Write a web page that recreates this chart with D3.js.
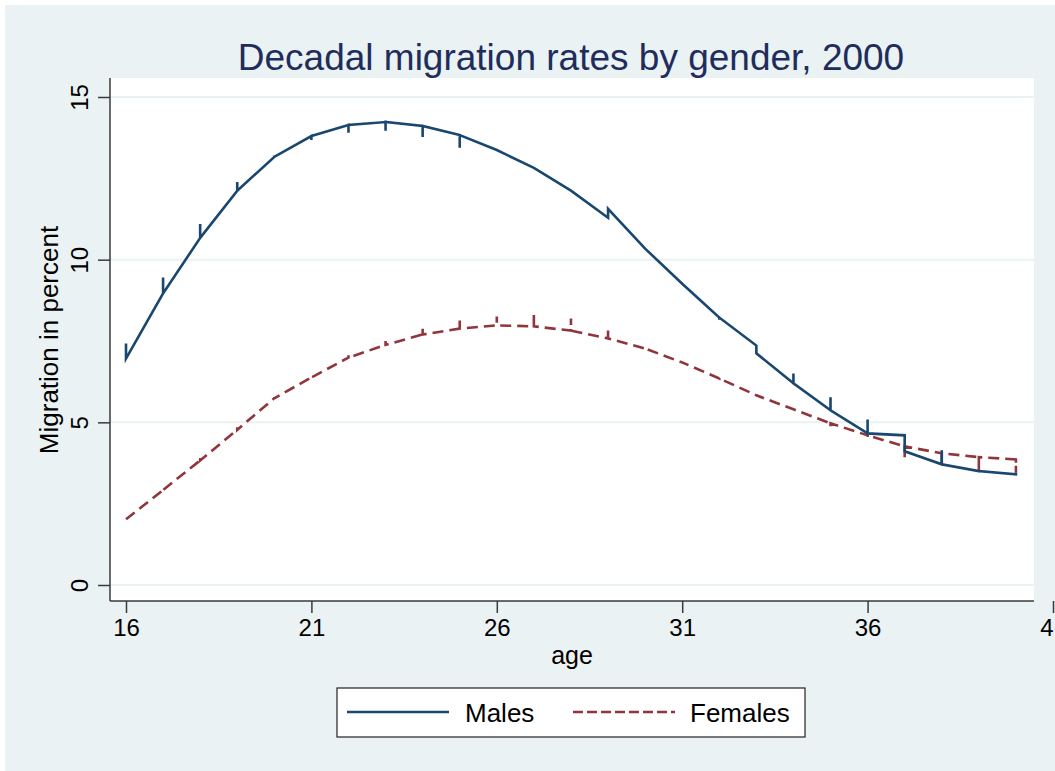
<!DOCTYPE html>
<html>
<head>
<meta charset="utf-8">
<script src="https://cdn.jsdelivr.net/npm/d3@7"></script>
<style>
  html, body { margin: 0; padding: 0; background: #fff; }
  svg { display: block; font-family: "Liberation Sans", Arial, sans-serif; }
</style>
</head>
<body>
<div id="chart"></div>
<script>
// ages and rates
var ages = [16, 17, 18, 19, 20, 21, 22, 23, 24, 25, 26, 27, 28, 29, 30, 31, 32, 33, 34, 35, 36, 37, 38, 39, 40];
var malesIn  = [6.96, 8.96, 10.67, 12.12, 13.16, 13.8, 14.14, 14.23, 14.11, 13.83, 13.37, 12.82, 12.12, 11.29, 10.34, 9.26, 8.22, 7.36, 6.2, 5.37, 4.66, 4.6, 3.71, 3.5, 3.4];
var malesTip = [7.42, 9.45, 11.1, 12.39, 13.2, 13.68, 13.9, 13.96, 13.77, 13.44, 13.37, 12.82, 12.12, 11.56, 10.34, 9.26, 8.15, 7.12, 6.5, 5.77, 5.09, 4.11, 4.14, 3.55, 3.45];
var malesOut = [6.96, 8.96, 10.67, 12.12, 13.16, 13.8, 14.14, 14.23, 14.11, 13.83, 13.37, 12.82, 12.12, 11.56, 10.34, 9.26, 8.22, 7.12, 6.2, 5.37, 4.66, 4.11, 3.71, 3.5, 3.4];
var femalesIn  = [2.02, 2.92, 3.83, 4.77, 5.74, 6.38, 6.99, 7.38, 7.7, 7.88, 7.98, 7.95, 7.82, 7.58, 7.27, 6.84, 6.35, 5.83, 5.4, 4.97, 4.6, 4.26, 4.05, 3.93, 3.86];
var femalesTip = [2.02, 2.97, 3.93, 4.85, 5.78, 6.42, 7.06, 7.5, 7.88, 8.13, 8.25, 8.31, 8.19, 7.91, 7.3, 6.86, 6.37, 5.85, 5.4, 4.88, 4.55, 3.93, 3.74, 3.5, 3.45];
var femalesOut = femalesIn;

var xTicks = [16, 21, 26, 31, 36, 41];
var yTicks = [0, 5, 10, 15];
var titleText = "Decadal migration rates by gender, 2000";
var xTitle = "age";
var yTitle = "Migration in percent";
var seriesNames = ["Males", "Females"];

var W = 1055, H = 771;
var plot = { left: 110, right: 1034, top: 78, bottom: 601 };
var navy = "#1a476f", maroon = "#90353b", bg = "#eaf2f3", axisCol = "#3a3a3a";

var svg = d3.select("#chart").append("svg").attr("width", W).attr("height", H);

svg.append("rect").attr("x", 5).attr("y", 5).attr("width", W - 5).attr("height", H - 5).attr("fill", bg);
svg.append("rect")
    .attr("x", plot.left).attr("y", plot.top)
    .attr("width", plot.right - plot.left).attr("height", plot.bottom - plot.top)
    .attr("fill", "#fff");

var x = d3.scaleLinear().domain([16, 41]).range([126, 1053]);
var y = d3.scaleLinear().domain([0, 15]).range([585, 97]);

// gridlines
svg.append("g").selectAll("line").data(yTicks).enter().append("line")
    .attr("x1", plot.left).attr("x2", plot.right)
    .attr("y1", function (d) { return y(d); }).attr("y2", function (d) { return y(d); })
    .attr("stroke", bg).attr("stroke-width", 2);

// x axis
var gx = svg.append("g").attr("transform", "translate(0," + plot.bottom + ")")
    .call(d3.axisBottom(x).tickValues(xTicks).tickSize(12).tickPadding(6));
gx.select(".domain").remove();
gx.selectAll(".tick line").attr("stroke", axisCol).attr("stroke-width", 1.5);
gx.selectAll(".tick text").attr("font-size", 24).attr("fill", "#000")
    .attr("font-family", "Liberation Sans, Arial, sans-serif");
svg.append("line").attr("x1", plot.left).attr("x2", plot.right)
    .attr("y1", plot.bottom).attr("y2", plot.bottom)
    .attr("stroke", axisCol).attr("stroke-width", 1.5);

// y axis
var gy = svg.append("g").attr("transform", "translate(" + plot.left + ",0)")
    .call(d3.axisLeft(y).tickValues(yTicks).tickSize(12));
gy.select(".domain").remove();
gy.selectAll(".tick line").attr("stroke", axisCol).attr("stroke-width", 1.5);
gy.selectAll(".tick text")
    .attr("font-size", 24).attr("fill", "#000")
    .attr("font-family", "Liberation Sans, Arial, sans-serif")
    .attr("x", null).attr("dy", null)
    .attr("text-anchor", "middle")
    .attr("transform", "translate(-22,0) rotate(-90)");
svg.append("line").attr("x1", plot.left).attr("x2", plot.left)
    .attr("y1", plot.top).attr("y2", plot.bottom)
    .attr("stroke", axisCol).attr("stroke-width", 1.5);

// series paths: each age gets an arrive, spike and leave point
function pts(a, t, o) {
    var p = [];
    ages.forEach(function (age, i) {
        p.push([age, a[i]]);
        p.push([age, t[i]]);
        p.push([age, o[i]]);
    });
    return p;
}
var line = d3.line().x(function (d) { return x(d[0]); }).y(function (d) { return y(d[1]); });

svg.append("path").datum(pts(femalesIn, femalesTip, femalesOut))
    .attr("d", line).attr("fill", "none").attr("stroke", maroon)
    .attr("stroke-width", 2.6).attr("stroke-dasharray", "11,6");
svg.append("path").datum(pts(malesIn, malesTip, malesOut))
    .attr("d", line).attr("fill", "none").attr("stroke", navy)
    .attr("stroke-width", 2.6);

// titles
svg.append("text").attr("x", 571).attr("y", 70).attr("text-anchor", "middle")
    .attr("font-size", 37).attr("fill", "#1e2d5c").text(titleText);
svg.append("text").attr("x", 572).attr("y", 664).attr("text-anchor", "middle")
    .attr("font-size", 25).attr("fill", "#000").text(xTitle);
svg.append("text").attr("transform", "translate(58,340) rotate(-90)").attr("text-anchor", "middle")
    .attr("font-size", 26).attr("fill", "#000").text(yTitle);

// legend
var lg = svg.append("g");
lg.append("rect").attr("x", 337).attr("y", 688).attr("width", 468).attr("height", 49)
    .attr("fill", "#fff").attr("stroke", "#222").attr("stroke-width", 1.2);
var legendItems = [
    { name: seriesNames[0], color: navy, dash: null, x0: 347, tx: 465 },
    { name: seriesNames[1], color: maroon, dash: "10,4", x0: 573, tx: 690 }
];
legendItems.forEach(function (it) {
    lg.append("line").attr("x1", it.x0).attr("x2", it.x0 + 102).attr("y1", 712).attr("y2", 712)
        .attr("stroke", it.color).attr("stroke-width", 2.6).attr("stroke-dasharray", it.dash);
    lg.append("text").attr("x", it.tx).attr("y", 722).attr("font-size", 26).attr("fill", "#000").text(it.name);
});
</script>
</body>
</html>
